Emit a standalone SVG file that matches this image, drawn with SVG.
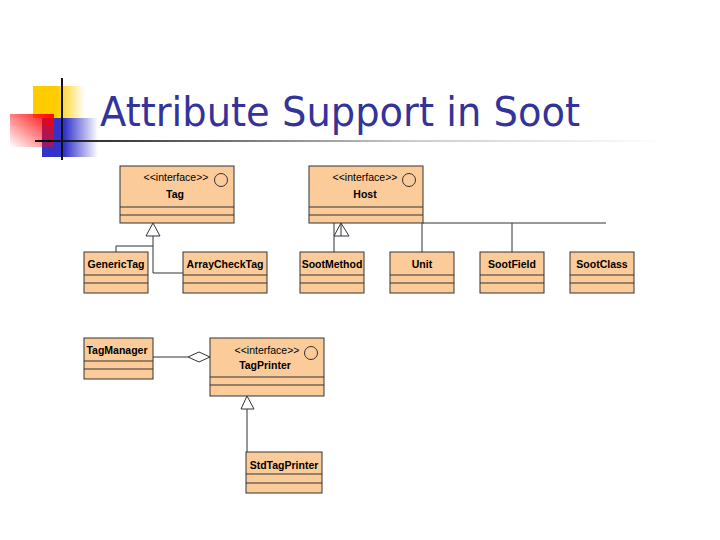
<svg xmlns="http://www.w3.org/2000/svg" width="720" height="540" viewBox="0 0 720 540">
<defs>
  <linearGradient id="gY" x1="0" y1="0" x2="1" y2="0">
    <stop offset="0" stop-color="#FFCC00"/>
    <stop offset="0.45" stop-color="#FFCC00"/>
    <stop offset="1" stop-color="#FFCC00" stop-opacity="0"/>
  </linearGradient>
  <linearGradient id="gB" x1="0" y1="0" x2="1" y2="0">
    <stop offset="0" stop-color="#3333CC"/>
    <stop offset="0.4" stop-color="#3333CC"/>
    <stop offset="1" stop-color="#3333CC" stop-opacity="0"/>
  </linearGradient>
  <linearGradient id="gR" x1="1" y1="0" x2="0" y2="1">
    <stop offset="0" stop-color="#FF0000"/>
    <stop offset="1" stop-color="#FF0000" stop-opacity="0"/>
  </linearGradient>
  <linearGradient id="gL" x1="0" y1="0" x2="1" y2="0">
    <stop offset="0" stop-color="#000000"/>
    <stop offset="0.1" stop-color="#333333"/>
    <stop offset="0.6" stop-color="#cccccc"/>
    <stop offset="1" stop-color="#ffffff"/>
  </linearGradient>
</defs>
<style>
  .box { fill: #FCCB9A; stroke: #333333; stroke-width: 1; }
  .sep { stroke: #333333; stroke-width: 1; }
  .ln { stroke: #333333; stroke-width: 1; fill: none; }
  .hd { stroke: #333333; stroke-width: 1; fill: #ffffff; }
  .st { font-family: "Liberation Sans", Arial, sans-serif; font-size: 10.5px; fill: #000; text-anchor: middle; }
  .nm { font-family: "Liberation Sans", Arial, sans-serif; font-size: 10.5px; font-weight: bold; fill: #000; text-anchor: middle; }
  .ic { fill: none; stroke: #333333; stroke-width: 1; }
</style>
<rect width="720" height="540" fill="#ffffff"/>
<g id="decoration">
  <rect x="33" y="86" width="52" height="32" fill="url(#gY)"/>
  <rect x="42" y="118" width="56" height="39" fill="url(#gB)"/>
  <rect x="10" y="114" width="44" height="33" fill="url(#gR)"/>
  <line x1="62" y1="78" x2="62" y2="160" stroke="#111" stroke-width="2"/>
  <rect x="35" y="140" width="632" height="2" fill="url(#gL)"/>
</g>
<text x="100" y="126" font-family="Tahoma, 'DejaVu Sans', sans-serif" font-size="41" fill="#333399" textLength="480" lengthAdjust="spacingAndGlyphs">Attribute Support in Soot</text>

<g id="connectors">
  <polyline class="ln" points="116,252 116,246 153,246"/>
  <polyline class="ln" points="153,236 153,273 183,273"/>
  <polygon class="hd" points="153,223 146,236 160,236"/>
  <line class="ln" x1="423" y1="223" x2="606" y2="223"/>
  <line class="ln" x1="422" y1="223" x2="422" y2="252"/>
  <line class="ln" x1="512" y1="223" x2="512" y2="252"/>
  <line class="ln" x1="334" y1="223" x2="334" y2="252"/>
  <polygon class="hd" points="341,223 334,236 349,236"/>
  <line class="ln" x1="341" y1="223" x2="341" y2="236"/>
  <line class="ln" x1="153" y1="357" x2="188" y2="357"/>
  <polygon class="hd" points="188,357 199,352 210,357 199,362"/>
  <line class="ln" x1="247" y1="409" x2="247" y2="452"/>
  <polygon class="hd" points="247,396 241,409 254,409"/>
</g>

<g id="Tag">
  <rect class="box" x="120" y="166" width="114" height="57"/>
  <line class="sep" x1="120" y1="207" x2="234" y2="207"/>
  <line class="sep" x1="120" y1="215" x2="234" y2="215"/>
  <text class="st" x="176" y="181">&lt;&lt;interface&gt;&gt;</text>
  <circle class="ic" cx="221" cy="180" r="6.5"/>
  <text class="nm" x="175" y="198">Tag</text>
</g>
<g id="Host">
  <rect class="box" x="309" y="166" width="114" height="57"/>
  <line class="sep" x1="309" y1="207" x2="423" y2="207"/>
  <line class="sep" x1="309" y1="215" x2="423" y2="215"/>
  <text class="st" x="365" y="181">&lt;&lt;interface&gt;&gt;</text>
  <circle class="ic" cx="409" cy="180" r="6.5"/>
  <text class="nm" x="365" y="198">Host</text>
</g>
<g id="GenericTag">
  <rect class="box" x="84" y="252" width="64" height="41"/>
  <line class="sep" x1="84" y1="275" x2="148" y2="275"/>
  <line class="sep" x1="84" y1="283" x2="148" y2="283"/>
  <text class="nm" x="116" y="268">GenericTag</text>
</g>
<g id="ArrayCheckTag">
  <rect class="box" x="183" y="252" width="84" height="41"/>
  <line class="sep" x1="183" y1="275" x2="267" y2="275"/>
  <line class="sep" x1="183" y1="283" x2="267" y2="283"/>
  <text class="nm" x="225" y="268">ArrayCheckTag</text>
</g>
<g id="SootMethod">
  <rect class="box" x="300" y="252" width="64" height="41"/>
  <line class="sep" x1="300" y1="275" x2="364" y2="275"/>
  <line class="sep" x1="300" y1="283" x2="364" y2="283"/>
  <text class="nm" x="332" y="268">SootMethod</text>
</g>
<g id="Unit">
  <rect class="box" x="390" y="252" width="64" height="41"/>
  <line class="sep" x1="390" y1="275" x2="454" y2="275"/>
  <line class="sep" x1="390" y1="283" x2="454" y2="283"/>
  <text class="nm" x="422" y="268">Unit</text>
</g>
<g id="SootField">
  <rect class="box" x="480" y="252" width="64" height="41"/>
  <line class="sep" x1="480" y1="275" x2="544" y2="275"/>
  <line class="sep" x1="480" y1="283" x2="544" y2="283"/>
  <text class="nm" x="512" y="268">SootField</text>
</g>
<g id="SootClass">
  <rect class="box" x="570" y="252" width="64" height="41"/>
  <line class="sep" x1="570" y1="275" x2="634" y2="275"/>
  <line class="sep" x1="570" y1="283" x2="634" y2="283"/>
  <text class="nm" x="602" y="268">SootClass</text>
</g>
<g id="TagManager">
  <rect class="box" x="84" y="338" width="69" height="41"/>
  <line class="sep" x1="84" y1="361" x2="153" y2="361"/>
  <line class="sep" x1="84" y1="369" x2="153" y2="369"/>
  <text class="nm" x="117" y="354">TagManager</text>
</g>
<g id="TagPrinter">
  <rect class="box" x="210" y="338" width="114" height="58"/>
  <line class="sep" x1="210" y1="377" x2="324" y2="377"/>
  <line class="sep" x1="210" y1="385" x2="324" y2="385"/>
  <text class="st" x="267" y="354">&lt;&lt;interface&gt;&gt;</text>
  <circle class="ic" cx="311" cy="353" r="6.5"/>
  <text class="nm" x="265" y="369">TagPrinter</text>
</g>
<g id="StdTagPrinter">
  <rect class="box" x="246" y="452" width="76" height="41"/>
  <line class="sep" x1="246" y1="474" x2="322" y2="474"/>
  <line class="sep" x1="246" y1="483" x2="322" y2="483"/>
  <text class="nm" x="284" y="469">StdTagPrinter</text>
</g>
</svg>
